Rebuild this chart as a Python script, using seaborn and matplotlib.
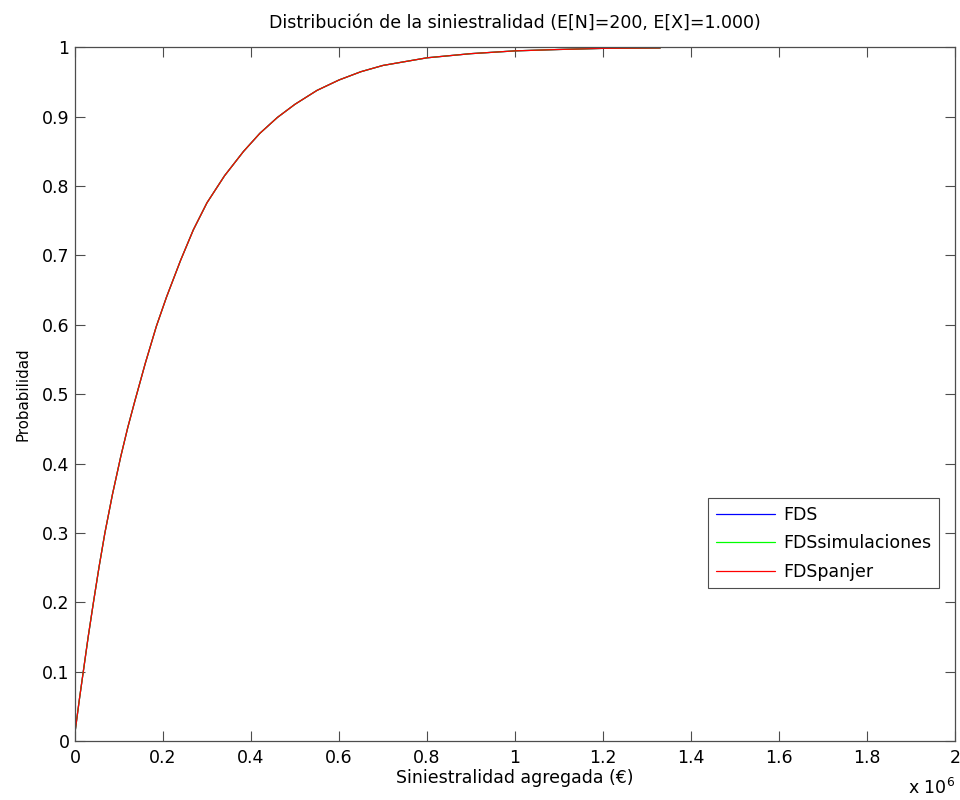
import numpy as np
import pandas as pd
import matplotlib
matplotlib.use("Agg")
import matplotlib.pyplot as plt
import seaborn as sns
from matplotlib.ticker import FuncFormatter, MultipleLocator

# aggregate claims (euros) and cumulative probability
siniestralidad = [0, 10000, 20000, 30000, 42000, 55000, 68000, 85000, 104000,
                  120000, 136000, 160000, 185000, 208000, 240000, 269000,
                  300000, 340000, 383000, 420000, 460000, 500000, 550000,
                  600000, 650000, 700000, 800000, 900000, 1000000, 1100000,
                  1200000, 1330000]
prob_fds = [0.012, 0.06, 0.105, 0.15, 0.20, 0.252, 0.30, 0.355, 0.41,
            0.452, 0.49, 0.545, 0.598, 0.64, 0.693, 0.737,
            0.776, 0.815, 0.85, 0.876, 0.899, 0.918, 0.938,
            0.953, 0.965, 0.974, 0.985, 0.991, 0.995, 0.997,
            0.9986, 0.9992]
prob_sim = list(prob_fds)
prob_panjer = list(prob_fds)

series_names = ["FDS", "FDSsimulaciones", "FDSpanjer"]
series_colors = ["#0000ff", "#00ff00", "#ff0000"]

df = pd.concat([
    pd.DataFrame({"x": siniestralidad, "p": vals, "serie": name})
    for name, vals in zip(series_names, [prob_fds, prob_sim, prob_panjer])
], ignore_index=True)

sns.set_style("white")
plt.rcParams["font.family"] = ["DejaVu Sans"]
plt.rcParams["text.color"] = "black"
plt.rcParams["axes.labelcolor"] = "black"
plt.rcParams["xtick.labelcolor"] = "black"
plt.rcParams["ytick.labelcolor"] = "black"
fs = 12.5

fig = plt.figure(figsize=(9.6, 8.0), dpi=100)
ax = fig.add_axes([0.0781, 0.07375, 0.9167, 0.867])

sns.lineplot(data=df, x="x", y="p", hue="serie", hue_order=series_names,
             palette=dict(zip(series_names, series_colors)), linewidth=0.9,
             ax=ax, estimator=None, sort=False)

ax.set_xlim(0, 2000000)
ax.set_ylim(0, 1)
ax.xaxis.set_major_locator(MultipleLocator(200000))
ax.yaxis.set_major_locator(MultipleLocator(0.1))
ax.xaxis.set_major_formatter(FuncFormatter(lambda v, pos: f"{v / 1e6:g}"))
ax.yaxis.set_major_formatter(FuncFormatter(lambda v, pos: f"{round(v, 2):g}"))

edge = "#4d4d4d"
for s in ax.spines.values():
    s.set_color(edge)
    s.set_linewidth(0.9)
ax.tick_params(direction="in", length=7, width=0.8, color=edge,
               top=True, right=True, bottom=True, left=True,
               labelsize=fs, labelcolor="black")
ax.tick_params(axis="x", pad=6)
ax.tick_params(axis="y", pad=4)

ax.set_xlabel("Siniestralidad agregada (€)", fontsize=fs, labelpad=1)
ax.set_ylabel("Probabilidad", fontsize=10.8, labelpad=8)
ax.set_title("Distribución de la siniestralidad (E[N]=200, E[X]=1.000)",
             fontsize=fs, pad=14)
fig.text(0.946, 0.002, "x 10$^{6}$", fontsize=fs, ha="left", va="bottom")

leg = ax.legend(loc="lower right", bbox_to_anchor=(0.982, 0.22), frameon=True,
                fancybox=False, fontsize=fs, handlelength=3.45,
                borderpad=0.45, labelspacing=0.6, handletextpad=0.45,
                borderaxespad=0)
leg.get_frame().set_edgecolor("#202020")
leg.get_frame().set_linewidth(0.8)
leg.set_title(None)
for t in leg.get_texts():
    t.set_color("black")

fig.savefig("out.png", dpi=100)
